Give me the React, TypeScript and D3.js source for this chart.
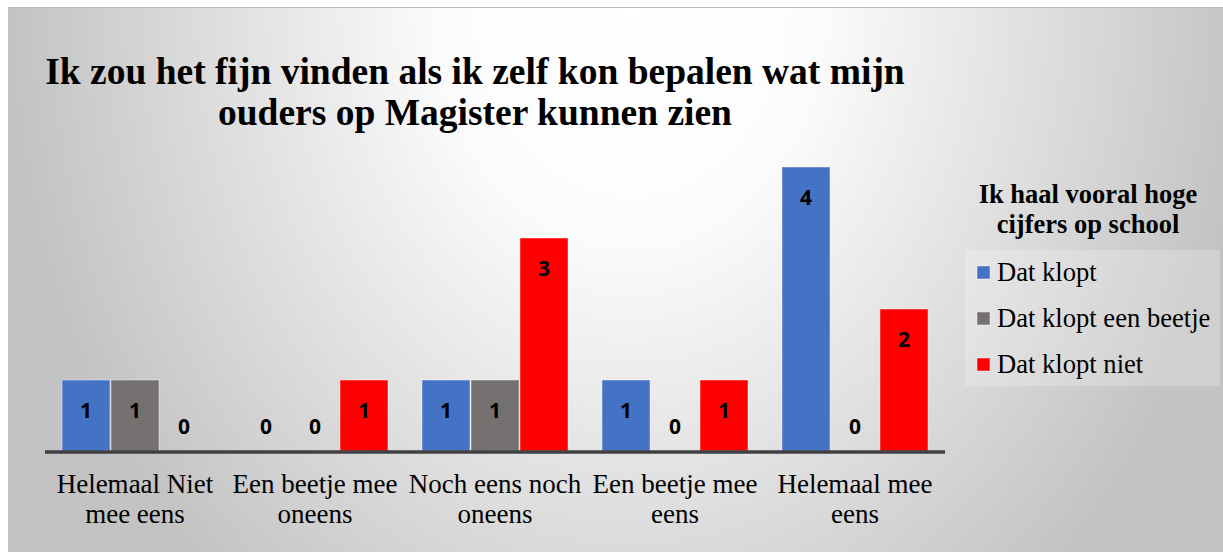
import * as d3 from "d3";

const categories = [
  "Helemaal Niet\nmee eens",
  "Een beetje mee\noneens",
  "Noch eens noch\noneens",
  "Een beetje mee\neens",
  "Helemaal mee\neens",
];
const seriesNames = ["Dat klopt", "Dat klopt een beetje", "Dat klopt niet"];
const datKlopt = [1, 0, 1, 1, 4];
const datKloptBeetje = [1, 0, 1, 0, 0];
const datKloptNiet = [0, 1, 3, 1, 2];
const seriesColors = ["#4472C4", "#767171", "#FF0000"];
const titleLines = [
  "Ik zou het fijn vinden als ik zelf kon bepalen wat mijn",
  "ouders op Magister kunnen zien",
];
const legendTitleLines = ["Ik haal vooral hoge", "cijfers op school"];

const W = 1223;
const H = 552;
const serif = "'Liberation Serif', 'Times New Roman', serif";

export default function App() {
  const values = [datKlopt, datKloptBeetje, datKloptNiet];

  const x = d3.scaleBand<string>().domain(categories).range([45, 945]);
  const xi = d3
    .scaleBand<number>()
    .domain(d3.range(seriesNames.length))
    .range([17, x.bandwidth() - 17])
    .paddingInner(0.02);
  const y = d3.scaleLinear().domain([0, 4]).range([451, 167]);

  return (
    <svg
      width={W}
      height={H}
      style={{ position: "absolute", left: 0, top: 0 }}
    >
      <defs>
        <radialGradient
          id="bg"
          gradientUnits="userSpaceOnUse"
          cx={630}
          cy={0}
          r={620}
          gradientTransform="translate(630,0) scale(1,1.25) translate(-630,0)"
        >
          <stop offset="0" stopColor="#ffffff" />
          <stop offset="0.3" stopColor="#fcfcfc" />
          <stop offset="1" stopColor="#c3c3c3" />
        </radialGradient>
      </defs>
      <rect x={8} y={7} width={W - 8} height={H - 7} fill="url(#bg)" />
      <line x1={8} x2={W} y1={7.5} y2={7.5} stroke="#bdbdbd" />

      {titleLines.map((t, i) => (
        <text
          key={t}
          x={475}
          y={84 + i * 41}
          textAnchor="middle"
          fontFamily={serif}
          fontWeight="bold"
          fontSize={37.5}
        >
          {t}
        </text>
      ))}

      {categories.map((c, ci) => (
        <g key={c} transform={`translate(${x(c)},0)`}>
          {values.map((s, si) => {
            const v = s[ci];
            const bx = xi(si)!;
            return (
              <g key={si}>
                {v > 0 && (
                  <rect
                    x={bx}
                    y={y(v)}
                    width={xi.bandwidth()}
                    height={y(0) - y(v)}
                    fill={seriesColors[si]}
                    stroke="rgba(255,255,255,0.45)"
                    strokeWidth={1}
                  />
                )}
                <text
                  x={bx + xi.bandwidth() / 2}
                  y={v > 0 ? y(v) + 30 : y(0) - 25}
                  textAnchor="middle"
                  dominantBaseline="central"
                  fontFamily="'Open Sans', sans-serif"
                  fontWeight="bold"
                  fontSize={21}
                >
                  {v}
                </text>
              </g>
            );
          })}
          {c.split("\n").map((line, li) => (
            <text
              key={li}
              x={x.bandwidth() / 2}
              y={493 + li * 30}
              textAnchor="middle"
              fontFamily={serif}
              fontSize={27}
            >
              {line}
            </text>
          ))}
        </g>
      ))}

      <line
        x1={45}
        x2={945}
        y1={y(0) + 1}
        y2={y(0) + 1}
        stroke="#404040"
        strokeWidth={3.5}
      />

      {legendTitleLines.map((t, i) => (
        <text
          key={t}
          x={1088}
          y={203 + i * 30}
          textAnchor="middle"
          fontFamily={serif}
          fontWeight="bold"
          fontSize={26.5}
        >
          {t}
        </text>
      ))}
      <rect x={965} y={250} width={255} height={136} fill="#ffffff" opacity={0.22} />
      {seriesNames.map((n, i) => (
        <g key={n} transform={`translate(977,${266 + i * 46})`}>
          <rect
            width={13}
            height={13}
            fill={seriesColors[i]}
            stroke="rgba(255,255,255,0.45)"
          />
          <text x={20} y={15} fontFamily={serif} fontSize={26.6}>
            {n}
          </text>
        </g>
      ))}
    </svg>
  );
}
